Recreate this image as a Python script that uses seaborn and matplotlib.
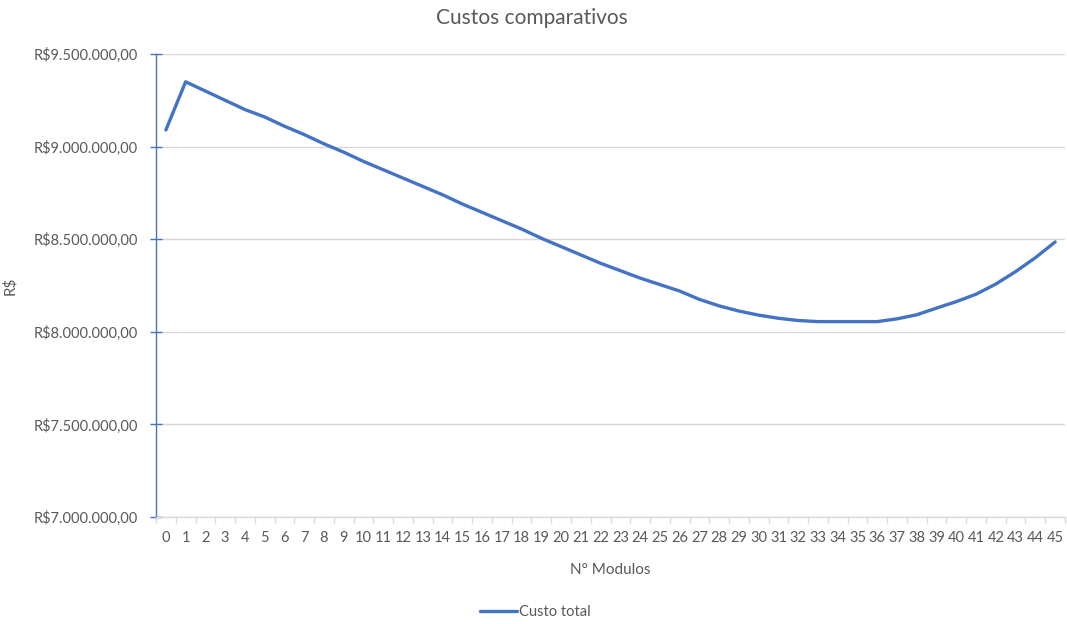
import matplotlib
matplotlib.use("Agg")
import matplotlib.pyplot as plt
from matplotlib.ticker import FuncFormatter, FixedLocator
import seaborn as sns
import pandas as pd

# Number of modules and the total cost for each configuration
modulos = list(range(46))
custo_total = [
    9090000, 9350000, 9300000, 9250000, 9200000, 9160000, 9110000, 9065000,
    9015000, 8970000, 8920000, 8875000, 8830000, 8785000, 8740000, 8690000,
    8645000, 8600000, 8555000, 8505000, 8460000, 8415000, 8370000, 8330000,
    8290000, 8255000, 8220000, 8175000, 8140000, 8112000, 8090000, 8073000,
    8061000, 8055000, 8055000, 8055000, 8055000, 8070000, 8092000, 8128000,
    8163000, 8203000, 8258000, 8325000, 8400000, 8485000,
]
y_ticks = [7000000, 7500000, 8000000, 8500000, 9000000, 9500000]

df = pd.DataFrame({"N° Modulos": modulos, "Custo total": custo_total})

sns.set_theme(style="white")
plt.rcParams["font.family"] = ["Lato", "DejaVu Sans"]

grey = "#595959"
blue = "#4472C4"

fig = plt.figure(figsize=(10.67, 6.24), dpi=100)
ax = fig.add_axes([156 / 1067, 1 - 517 / 624, (1065 - 156) / 1067, (517 - 54) / 624])

sns.lineplot(data=df, x="N° Modulos", y="Custo total", ax=ax, color=blue,
             linewidth=2.4, label="Custo total", zorder=3)

ax.set_xlim(-0.5, 45.5)
ax.set_ylim(7000000, 9500000)

def brl(v, pos):
    s = f"{v:,.2f}"
    s = s.replace(",", "X").replace(".", ",").replace("X", ".")
    return "R$" + s

ax.yaxis.set_major_locator(FixedLocator(y_ticks))
ax.yaxis.set_major_formatter(FuncFormatter(brl))
ax.xaxis.set_major_locator(FixedLocator(modulos))
ax.xaxis.set_minor_locator(FixedLocator([i - 0.5 for i in range(47)]))

ax.grid(axis="y", color="#D9D9D9", linewidth=1.0, zorder=0)
ax.grid(axis="x", visible=False)

for side in ["top", "right"]:
    ax.spines[side].set_visible(False)
ax.spines["left"].set_color(blue)
ax.spines["left"].set_linewidth(1.0)
ax.spines["bottom"].set_color("#D9D9D9")
ax.spines["bottom"].set_linewidth(1.0)

ax.tick_params(axis="y", which="major", direction="inout", length=8, width=1,
               color=blue, labelcolor=grey, labelsize=10.5, pad=9, left=True)
ax.tick_params(axis="x", which="major", length=0, labelcolor=grey,
               labelsize=10.5, pad=10)
ax.tick_params(axis="x", which="minor", direction="out", length=4, width=1,
               color="#D9D9D9", bottom=True)

ax.set_xlabel("N° Modulos", color=grey, fontsize=11, labelpad=13)
ax.set_ylabel("R$", color=grey, fontsize=11, labelpad=12)
fig.text(532 / 1067, 1 - 18 / 624, "Custos comparativos", color=grey,
         fontsize=15, ha="center", va="center")

leg = ax.legend(loc="center", bbox_to_anchor=(535 / 1067, 1 - 612 / 624),
                bbox_transform=fig.transFigure, frameon=False, fontsize=10.5,
                handlelength=2.6, handletextpad=0.1)
for t in leg.get_texts():
    t.set_color(grey)

fig.savefig("out.png", dpi=100, facecolor="white")
